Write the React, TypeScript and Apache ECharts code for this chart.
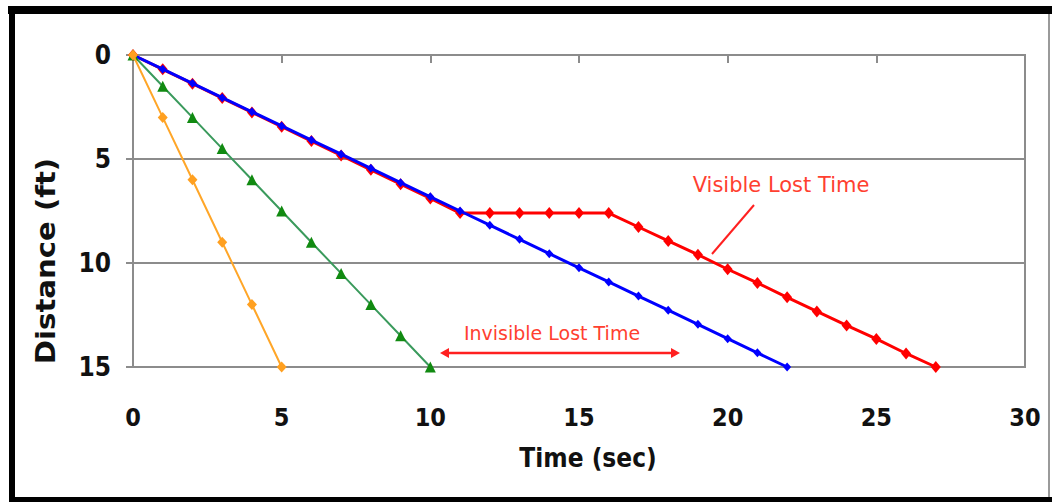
import React, { useEffect, useRef } from "react";
import * as echarts from "echarts";

const timeOrange = [0, 1, 2, 3, 4, 5];
const distOrange = [0, 3, 6, 9, 12, 15];

const timeGreen = [0, 1, 2, 3, 4, 5, 6, 7, 8, 9, 10];
const distGreen = [0, 1.5, 3, 4.5, 6, 7.5, 9, 10.5, 12, 13.5, 15];

const timeBlue = [0, 1, 2, 3, 4, 5, 6, 7, 8, 9, 10, 11, 12, 13, 14, 15, 16, 17, 18, 19, 20, 21, 22];
const distBlue = [0, 0.68, 1.36, 2.05, 2.73, 3.41, 4.09, 4.77, 5.45, 6.14, 6.82, 7.5, 8.18, 8.86, 9.55, 10.23, 10.91, 11.59, 12.27, 12.95, 13.64, 14.32, 15];

const timeRed = [0, 1, 2, 3, 4, 5, 6, 7, 8, 9, 10, 11, 12, 13, 14, 15, 16, 17, 18, 19, 20, 21, 22, 23, 24, 25, 26, 27];
const distRed = [0, 0.69, 1.38, 2.07, 2.76, 3.45, 4.14, 4.83, 5.52, 6.21, 6.9, 7.6, 7.6, 7.6, 7.6, 7.6, 7.6, 8.27, 8.94, 9.6, 10.3, 10.96, 11.65, 12.33, 13.0, 13.65, 14.35, 15];

const xTicks = [0, 5, 10, 15, 20, 25, 30];
const yTicks = [0, 5, 10, 15];

const pair = (t: number[], d: number[]) => t.map((v, i) => [v, d[i]]);

export default function App() {
  const ref = useRef<HTMLDivElement>(null);
  useEffect(() => {
    const chart = echarts.init(ref.current!, undefined, { renderer: "svg" });
    const axisFont = "'DejaVu Sans Condensed', 'DejaVu Sans', sans-serif";
    const noteColor = "#ff4030";
    chart.setOption({
      animation: false,
      backgroundColor: "#ffffff",
      grid: {
        left: 133,
        top: 55,
        right: 27,
        bottom: 135,
        show: true,
        borderColor: "#8c8c8c",
        borderWidth: 2,
      },
      xAxis: {
        type: "value",
        min: xTicks[0],
        max: xTicks[xTicks.length - 1],
        interval: 5,
        axisLine: { show: true, lineStyle: { color: "#8c8c8c", width: 2 } },
        axisTick: { show: true, length: 8, lineStyle: { color: "#8c8c8c", width: 2 } },
        axisLabel: { margin: 38, fontSize: 25, fontWeight: "bold", fontFamily: axisFont, color: "#111" },
        splitLine: { show: false },
      },
      yAxis: {
        type: "value",
        inverse: true,
        min: yTicks[0],
        max: yTicks[yTicks.length - 1],
        interval: 5,
        axisLine: { show: true, lineStyle: { color: "#8c8c8c", width: 2 } },
        axisTick: { show: true, length: 7, lineStyle: { color: "#8c8c8c", width: 2 } },
        axisLabel: { margin: 22, fontSize: 26, fontWeight: "bold", fontFamily: axisFont, color: "#111" },
        splitLine: { show: true, lineStyle: { color: "#8c8c8c", width: 2 } },
      },
      series: [
        {
          type: "line",
          data: pair(timeRed, distRed),
          symbol: "diamond",
          symbolSize: [10, 12],
          lineStyle: { color: "#ff0000", width: 3 },
          itemStyle: { color: "#ff0000" },
          z: 2,
        },
        {
          type: "line",
          data: pair(timeBlue, distBlue),
          symbol: "diamond",
          symbolSize: [8, 9],
          lineStyle: { color: "#0000ff", width: 3 },
          itemStyle: { color: "#0000ff" },
          z: 3,
        },
        {
          type: "line",
          data: pair(timeGreen, distGreen),
          symbol: "triangle",
          symbolSize: [11, 11],
          lineStyle: { color: "#3a9a5c", width: 2 },
          itemStyle: { color: "#118a11" },
          z: 4,
        },
        {
          type: "line",
          data: pair(timeOrange, distOrange),
          symbol: "diamond",
          symbolSize: [10, 11],
          lineStyle: { color: "#ffa628", width: 2 },
          itemStyle: { color: "#ffa020" },
          z: 5,
        },
      ],
      graphic: [
        { type: "rect", shape: { x: 8, y: 6, width: 1044, height: 8 }, style: { fill: "#000" } },
        { type: "rect", shape: { x: 9, y: 6, width: 6, height: 496 }, style: { fill: "#000" } },
        { type: "rect", shape: { x: 9, y: 497, width: 1043, height: 5 }, style: { fill: "#000" } },
        { type: "rect", shape: { x: 1048, y: 14, width: 2, height: 483 }, style: { fill: "#9a9a9a" } },
        {
          type: "text",
          x: 45,
          y: 261,
          rotation: Math.PI / 2,
          scaleX: 1.2,
          style: {
            text: "Distance (ft)",
            fontSize: 27,
            fontWeight: "bold",
            fontFamily: axisFont,
            fill: "#111",
            align: "center",
            verticalAlign: "middle",
          },
        },
        {
          type: "text",
          x: 588,
          y: 458,
          style: {
            text: "Time (sec)",
            fontSize: 26,
            fontWeight: "bold",
            fontFamily: axisFont,
            fill: "#111",
            align: "center",
            verticalAlign: "middle",
          },
        },
        {
          type: "text",
          x: 781,
          y: 185,
          style: {
            text: "Visible Lost Time",
            fontSize: 21,
            fontFamily: "'DejaVu Sans', sans-serif",
            fill: noteColor,
            align: "center",
            verticalAlign: "middle",
          },
        },
        {
          type: "line",
          shape: { x1: 754, y1: 205, x2: 712, y2: 254 },
          style: { stroke: "#ff2020", lineWidth: 2 },
        },
        {
          type: "text",
          x: 552,
          y: 333,
          style: {
            text: "Invisible Lost Time",
            fontSize: 19,
            fontFamily: "'DejaVu Sans', sans-serif",
            fill: noteColor,
            align: "center",
            verticalAlign: "middle",
          },
        },
        {
          type: "line",
          shape: { x1: 446, y1: 353, x2: 674, y2: 353 },
          style: { stroke: "#ff2020", lineWidth: 2.5 },
        },
        {
          type: "polygon",
          shape: { points: [[440, 353], [449, 348], [449, 358]] },
          style: { fill: "#ff2020" },
        },
        {
          type: "polygon",
          shape: { points: [[680, 353], [671, 348], [671, 358]] },
          style: { fill: "#ff2020" },
        },
      ],
    });
    return () => chart.dispose();
  }, []);
  return (
    <div
      ref={ref}
      style={{ position: "fixed", left: 0, top: 0, width: 1052, height: 502, background: "#fff" }}
    />
  );
}
